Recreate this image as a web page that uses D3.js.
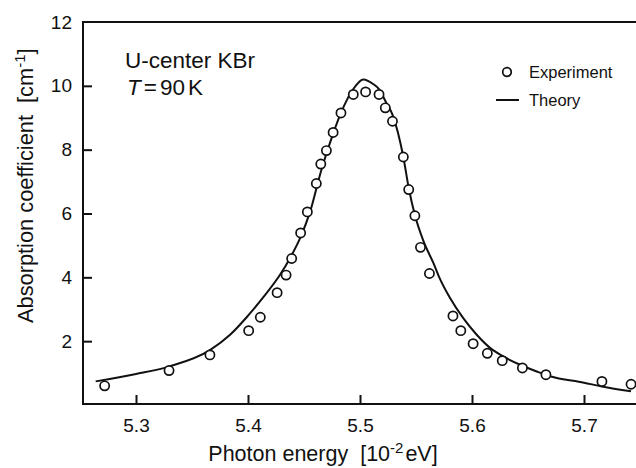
<!DOCTYPE html>
<html>
<head>
<meta charset="utf-8">
<script src="https://cdn.jsdelivr.net/npm/d3@7"></script>
<style>
  body { margin: 0; background: #fff; }
  text { font-family: "Liberation Sans", Arial, sans-serif; fill: #111; }
</style>
</head>
<body>
<div id="main"></div>
<script>
/* Size */
const width = 636, height = 468;

/* Data: experiment (circles) */
const expEnergy = [5.272, 5.3295, 5.366, 5.4006, 5.411, 5.426, 5.434, 5.439, 5.447, 5.453,
  5.461, 5.465, 5.470, 5.476, 5.483, 5.494, 5.505, 5.517, 5.5226, 5.529,
  5.5387, 5.5435, 5.549, 5.554, 5.562, 5.583, 5.590, 5.601, 5.6137, 5.627,
  5.645, 5.666, 5.716, 5.742];
const expAbs = [0.60, 1.08, 1.57, 2.33, 2.75, 3.52, 4.07, 4.59, 5.39, 6.05,
  6.94, 7.55, 7.97, 8.54, 9.15, 9.73, 9.81, 9.73, 9.31, 8.89,
  7.77, 6.75, 5.93, 4.94, 4.12, 2.79, 2.33, 1.92, 1.62, 1.39,
  1.16, 0.95, 0.74, 0.65];

/* Data: theory (line) */
const thEnergy = [5.264, 5.300, 5.330, 5.366, 5.384, 5.3988, 5.4137, 5.4286, 5.4375, 5.4464,
  5.4554, 5.465, 5.476, 5.483, 5.494, 5.503, 5.512, 5.517, 5.523, 5.529,
  5.5387, 5.5435, 5.549, 5.5565, 5.5655, 5.5714, 5.5804, 5.5922, 5.6042, 5.6161,
  5.628, 5.643, 5.6578, 5.6696, 5.700, 5.716, 5.742];
const thAbs = [0.74, 0.97, 1.21, 1.72, 2.2, 2.75, 3.38, 4.08, 4.6, 5.22,
  6.05, 7.3, 8.5, 9.15, 9.9, 10.2, 10.05, 9.9, 9.5, 9.1,
  7.77, 6.8, 5.95, 5.15, 4.45, 3.95, 3.35, 2.72, 2.2, 1.79,
  1.52, 1.26, 1.05, 0.90, 0.70, 0.58, 0.43];

/* Ticks */
const xTicks = [5.3, 5.4, 5.5, 5.6, 5.7];
const yTicks = [2, 4, 6, 8, 10, 12];

const expData = expEnergy.map((e, i) => ({x: e, y: expAbs[i]}));
const thData = thEnergy.map((e, i) => ({x: e, y: thAbs[i]}));

const svg = d3.select("#main").append("svg")
  .attr("width", width).attr("height", height);

const x = d3.scaleLinear().domain([5.3, 5.7]).range([136, 584]);
const y = d3.scaleLinear().domain([0, 12]).range([405, 22]);

const plotLeft = 83, plotBottom = 404, plotTop = 22;

/* axes */
const xAxis = svg.append("g")
  .attr("transform", `translate(0,${plotBottom})`)
  .call(d3.axisBottom(x).tickValues(xTicks).tickFormat(d3.format(".1f"))
    .tickSize(-9).tickSizeOuter(0).tickPadding(15));
xAxis.select(".domain").remove();

const yAxis = svg.append("g")
  .attr("transform", `translate(${plotLeft},0)`)
  .call(d3.axisLeft(y).tickValues(yTicks).tickFormat(d3.format("d"))
    .tickSize(-9).tickSizeOuter(0).tickPadding(11));
yAxis.select(".domain").remove();

svg.selectAll(".tick line").attr("stroke", "#111").attr("stroke-width", 2);
svg.selectAll(".tick text")
  .style("font-family", '"Liberation Sans", Arial, sans-serif')
  .style("font-size", "19px").attr("fill", "#111");
// the top label sits on the frame line, no tick mark there
yAxis.selectAll(".tick").filter(d => d === 12).select("line").remove();

/* frame: left, bottom, top */
svg.append("path")
  .attr("d", `M${width},${plotTop}H${plotLeft}V${plotBottom}H${width}`)
  .attr("fill", "none").attr("stroke", "#111").attr("stroke-width", 2);

/* theory line */
const line = d3.line().x(d => x(d.x)).y(d => y(d.y)).curve(d3.curveMonotoneX);
svg.append("path")
  .datum(thData)
  .attr("d", line)
  .attr("fill", "none").attr("stroke", "#111").attr("stroke-width", 2);

/* experiment circles */
svg.selectAll("circle.exp")
  .data(expData).enter()
  .append("circle").attr("class", "exp")
  .attr("cx", d => x(d.x)).attr("cy", d => y(d.y))
  .attr("r", 4.6)
  .attr("fill", "#fff").attr("stroke", "#111").attr("stroke-width", 1.7);

/* legend */
const lg = svg.append("g");
lg.append("circle").attr("cx", 507).attr("cy", 72).attr("r", 4.3)
  .attr("fill", "#fff").attr("stroke", "#111").attr("stroke-width", 1.7);
lg.append("text").attr("x", 529).attr("y", 78).style("font-size", "16.5px").text("Experiment");
lg.append("line").attr("x1", 496).attr("x2", 519).attr("y1", 100).attr("y2", 100)
  .attr("stroke", "#111").attr("stroke-width", 2);
lg.append("text").attr("x", 529).attr("y", 106).style("font-size", "16.5px").text("Theory");

/* annotation */
svg.append("text").attr("x", 125).attr("y", 68).style("font-size", "22.5px").text("U-center KBr");
const t2 = svg.append("text").attr("x", 127).attr("y", 95).style("font-size", "22.5px");
t2.append("tspan").style("font-style", "italic").text("T");
t2.append("tspan").attr("dx", 3).text("=");
t2.append("tspan").attr("dx", 3).text("90");
t2.append("tspan").attr("dx", 3).text("K");

/* axis titles */
const xl = svg.append("text").attr("x", 323).attr("y", 461)
  .attr("text-anchor", "middle").style("font-size", "21.5px");
xl.append("tspan").text("Photon energy");
xl.append("tspan").attr("dx", 12).text("[10");
xl.append("tspan").attr("dy", -8).style("font-size", "15px").text("-2");
xl.append("tspan").attr("dy", 8).attr("dx", 2).text("eV]");

const yl = svg.append("text")
  .attr("transform", "translate(33,323) rotate(-90)")
  .style("font-size", "21.8px");
yl.append("tspan").text("Absorption coefficient");
yl.append("tspan").attr("dx", 12).text("[cm");
yl.append("tspan").attr("dy", -8).style("font-size", "15px").text("-1");
yl.append("tspan").attr("dy", 8).text("]");
</script>
</body>
</html>
